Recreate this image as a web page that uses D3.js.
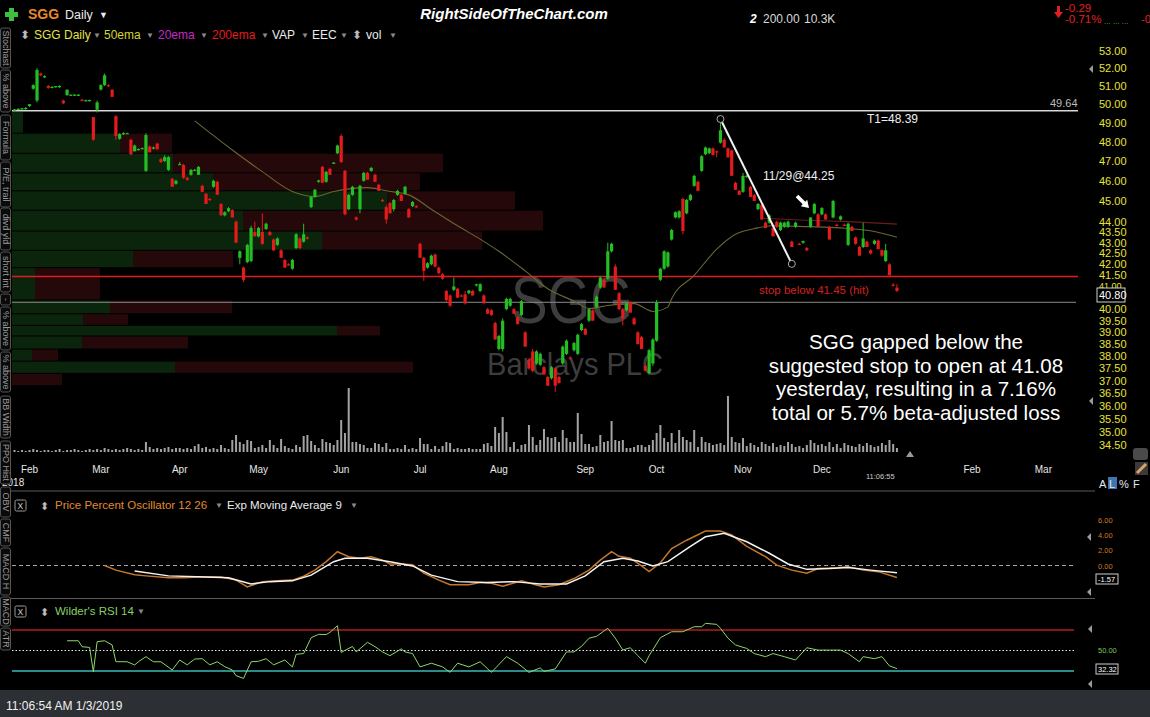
<!DOCTYPE html>
<html>
<head>
<meta charset="utf-8">
<script src="https://cdn.jsdelivr.net/npm/d3@7"></script>
<style>
body { margin: 0; background: #000; overflow: hidden; }
text { font-family: "Liberation Sans", Arial, sans-serif; }
</style>
</head>
<body>
<script>
// daily bars 26 Jan 2018 .. 3 Jan 2019, [open, high, low, close]
const bars = [
  [49.7,49.75,49.65,49.72],[49.72,49.78,49.68,49.75],[49.75,49.8,49.7,49.78],[49.78,49.85,49.7,49.8],[49.9,50.0,49.85,50.0],
  [50.85,51.1,50.8,51.05],[50.2,52.0,50.1,51.9],[51.7,51.75,51.55,51.6],[51.5,51.6,51.45,51.55],[51.0,51.05,50.85,50.9],
  [50.9,51.0,50.88,50.95],[50.95,51.0,50.9,51.0],[50.95,51.05,50.9,51.0],[50.2,50.25,50.0,50.05],[50.5,50.8,50.45,50.8],
  [50.5,50.55,50.45,50.52],[50.5,50.55,50.45,50.53],[50.5,50.55,50.45,50.52],[50.25,50.3,50.15,50.2],[50.18,50.25,50.15,50.22],
  [50.2,50.25,50.15,50.23],[49.3,49.3,48.05,48.1],[49.7,50.2,49.55,50.1],[50.8,51.1,50.75,51.05],[51.05,51.7,51.0,51.6],
  [51.05,51.1,50.95,51.0],[50.8,50.8,50.4,50.4],[49.35,49.4,48.1,48.3],[48.15,48.45,48.1,48.4],[48.4,48.5,48.35,48.45],
  [48.42,48.48,48.4,48.45],[48.1,48.15,47.3,47.35],[47.5,47.85,47.5,47.8],[47.6,47.65,47.55,47.62],[47.62,47.7,47.6,47.67],
  [46.5,48.45,46.45,48.35],[47.75,47.8,47.45,47.45],[47.65,47.75,47.6,47.7],[47.9,47.95,47.6,47.6],[47.1,47.15,46.9,46.95],
  [47.0,47.3,46.95,47.2],[46.55,47.25,46.5,47.2],[46.1,46.15,45.7,45.7],[45.85,46.05,45.8,46.0],[46.85,46.95,46.8,46.85],
  [46.8,46.85,46.1,46.15],[46.15,46.2,46.0,46.05],[46.3,46.6,46.25,46.55],[46.55,46.6,46.5,46.55],[46.3,46.75,46.3,46.7],
  [45.75,45.8,45.45,45.45],[45.35,45.4,44.85,44.85],[45.1,45.15,45.0,45.05],[45.7,46.05,45.65,46.0],[45.95,46.0,45.3,45.3],
  [44.85,44.9,44.3,44.3],[44.3,44.5,44.25,44.45],[44.5,44.7,44.45,44.65],[44.55,44.6,44.2,44.2],[44.0,44.05,43.0,43.0],
  [42.3,42.65,42.0,42.6],[41.85,41.9,41.2,41.3],[42.1,42.95,42.05,42.9],[42.15,43.8,42.1,43.7],[43.5,44.0,43.3,43.3],
  [43.3,43.75,43.25,43.7],[43.5,44.4,42.9,42.95],[43.65,43.95,43.6,43.9],[43.5,43.55,43.35,43.35],[43.15,43.2,42.6,42.65],
  [42.9,43.25,42.85,43.2],[42.65,42.7,42.3,42.3],[42.2,42.25,41.85,41.85],[42.0,42.05,41.95,41.98],[41.8,42.25,41.75,42.2],
  [42.75,43.45,42.7,43.4],[43.2,43.25,42.7,42.75],[43.05,43.9,43.0,43.4],[43.25,43.3,43.15,43.2],[44.7,45.25,44.65,45.2],
  [45.2,45.6,45.15,45.55],[45.95,46.05,45.9,46.02],[46.7,46.75,45.9,45.9],[45.95,46.5,45.9,46.45],[46.6,46.65,46.3,46.3],
  [46.9,46.95,46.85,46.92],[47.4,47.85,47.35,47.8],[48.3,48.4,46.9,46.95],[46.5,46.55,44.3,44.35],[44.6,45.35,44.55,45.3],
  [45.3,45.75,45.25,45.7],[44.2,44.25,44.05,44.1],[44.6,45.8,44.4,45.75],[46.0,46.45,45.95,46.4],[46.4,46.45,46.05,46.05],
  [46.5,46.7,46.45,46.65],[46.3,46.35,45.95,45.95],[45.8,45.85,45.5,45.5],[45.05,45.1,44.95,45.0],[44.7,44.8,43.9,44.1],
  [44.9,44.95,44.4,44.4],[44.6,45.1,44.5,45.05],[45.3,45.55,45.25,45.5],[45.3,45.35,45.0,45.0],[45.35,45.75,45.3,45.7],
  [44.6,44.65,44.2,44.2],[44.75,45.0,44.7,44.95],[44.75,44.8,44.65,44.7],[42.95,43.0,42.3,42.3],[42.3,42.35,41.25,41.7],
  [41.85,42.1,41.8,42.05],[42.0,42.45,41.95,42.4],[42.45,42.5,41.85,41.9],[41.85,41.9,41.55,41.6],[41.55,41.6,41.3,41.35],
  [40.8,40.85,40.3,40.4],[40.6,40.65,40.1,40.15],[40.85,41.4,40.8,41.0],[40.9,40.95,40.5,40.5],[40.6,40.65,40.55,40.58],
  [40.65,40.8,40.2,40.25],[40.7,40.85,40.65,40.82],[40.8,40.85,40.6,40.6],[41.05,41.12,41.0,41.1],[40.8,41.15,40.75,41.1],
  [40.6,40.65,40.25,40.25],[40.0,40.05,39.8,39.8],[39.95,40.0,39.7,39.75],[39.4,39.45,38.7,38.7],[38.3,38.9,38.25,38.85],
  [38.3,39.6,38.2,39.5],[40.0,40.5,39.95,40.45],[40.15,40.5,40.1,40.45],[40.0,40.05,39.8,39.8],[39.65,39.7,39.35,39.35],
  [39.75,40.4,39.7,40.35],[39.0,39.05,38.4,38.4],[37.85,37.9,37.45,37.5],[38.2,38.3,37.35,37.4],[37.7,38.25,37.65,38.2],
  [37.65,38.15,37.6,38.1],[37.55,37.6,37.25,37.25],[37.15,37.2,36.8,36.8],[37.1,37.6,37.05,37.55],[37.5,37.55,36.55,36.8],
  [37.15,37.2,36.9,36.9],[37.7,38.45,37.65,38.4],[38.1,38.7,38.05,38.65],[37.95,38.0,37.85,37.9],[38.25,38.6,38.2,38.55],
  [38.1,38.95,38.05,38.9],[39.1,39.4,39.05,39.35],[39.15,39.2,38.9,38.9],[39.5,40.05,39.45,40.0],[39.95,40.0,39.5,39.5],
  [40.1,40.6,40.05,40.55],[40.95,41.45,40.9,41.4],[41.3,41.35,40.95,40.95],[41.35,43.0,41.3,42.6],[42.6,43.0,42.55,42.95],
  [41.9,42.0,40.85,40.85],[40.7,40.75,39.95,40.0],[40.0,40.05,39.3,39.6],[39.95,40.3,39.9,40.25],[40.3,40.35,39.85,39.85],
  [39.6,39.65,39.3,39.35],[39.0,39.05,38.5,38.5],[38.8,38.85,38.3,38.3],[37.6,37.65,37.4,37.4],[37.3,38.3,37.25,38.25],
  [37.7,38.75,37.6,38.7],[38.65,40.4,38.6,40.3],[41.3,41.85,41.25,41.8],[41.8,42.65,41.75,42.6],[41.9,42.6,41.85,42.55],
  [43.15,43.65,43.1,43.6],[44.2,44.5,44.15,44.45],[44.2,44.55,44.15,44.5],[45.1,45.15,43.4,43.55],[44.4,45.1,44.35,45.05],
  [45.05,45.35,45.0,45.3],[45.75,46.3,45.7,46.25],[45.95,46.0,45.5,45.5],[46.5,47.3,46.45,47.25],[47.35,47.75,47.3,47.7],
  [47.4,47.7,47.35,47.65],[47.65,47.7,47.3,47.3],[47.5,47.55,47.2,47.48],[47.95,49.2,47.9,48.6],[48.1,48.2,47.7,47.7],
  [47.65,47.7,47.15,47.2],[47.55,47.6,46.25,46.25],[45.9,45.95,45.55,45.55],[45.5,45.55,45.3,45.3],[45.45,46.4,45.4,46.25],
  [46.2,46.3,46.15,46.25],[45.7,45.75,45.2,45.2],[45.3,45.35,45.0,45.0],[44.6,44.9,44.55,44.85],[44.8,44.85,44.1,44.1],
  [43.95,44.0,43.7,43.7],[43.95,44.35,43.9,44.3],[43.7,43.75,43.3,43.3],[44.0,44.05,43.7,43.75],[43.6,44.0,43.55,43.95],
  [43.75,44.0,43.7,43.95],[43.75,44.05,43.7,44.0],[43.05,43.1,42.8,42.8],[43.75,44.0,43.7,43.95],[42.95,43.0,42.9,42.92],
  [43.0,43.1,42.95,43.08],[42.75,42.8,42.6,42.65],[43.75,44.2,43.7,44.2],[44.4,44.9,44.35,44.85],[44.35,44.4,43.75,43.75],
  [44.35,44.7,44.3,44.65],[44.35,44.4,44.1,44.1],[43.75,43.8,43.15,43.15],[44.2,45.05,44.15,45.0],[43.85,43.9,43.78,43.8],
  [44.1,44.3,44.05,44.25],[43.85,43.9,43.8,43.82],[42.9,43.95,42.85,43.9],[43.75,43.8,43.55,43.55],[43.25,43.3,42.9,42.95],
  [42.8,42.85,42.4,42.4],[42.8,43.95,42.75,43.2],[43.05,43.1,42.8,42.8],[42.65,42.7,42.45,42.5],[42.95,43.15,42.9,43.1],
  [43.1,43.15,42.7,42.7],[42.65,42.7,42.35,42.4],[42.15,42.95,42.1,42.65],[42.0,42.05,41.5,41.5],[41.08,41.15,41.0,41.05],
  [40.95,41.1,40.75,40.8]
];

// shares per day
const volume = [
  200,100,200,100,200,300,200,100,200,200, 100,200,300,100,200,200,300,200,100,200,
  300,200,300,200,400,300,200,300,200,300, 400,300,200,300,200,1000,500,300,400,300,
  400,500,300,400,400,300,400,300,600,800, 400,500,300,400,300,700,400,300,1200,1700,
  1000,800,1200,1100,400,500,700,400,1200,700, 400,1300,600,400,300,700,500,1600,1700,1100,
  700,400,1300,1000,900,700,1200,3200,1900,6400, 1000,1000,800,700,400,400,900,800,500,900,
  300,300,400,300,700,300,400,300,1400,800, 800,300,600,300,600,1000,900,300,400,300,
  300,400,300,300,300,800,900,600,2500,1900, 3500,2000,500,1000,300,700,800,2700,1500,700,
  1200,2300,1500,1400,1500,1000,2200,1400,1000,1000, 3900,1800,800,800,500,600,1700,1000,1100,3100,
  1200,1100,1200,400,400,500,700,700,500,700, 1200,1900,2700,1400,1000,1900,900,2200,1500,1200,
  1000,2200,500,1500,1000,900,700,800,900,700, 5600,1500,1000,900,1400,600,900,700,500,1000,
  800,600,900,500,700,600,1000,800,500,600, 400,700,1200,900,700,800,600,1000,500,800,
  400,900,700,600,500,800,600,900,700,500, 600,900,700,1200,800,400
];

const monthNames = ["Feb","Mar","Apr","May","Jun","Jul","Aug","Sep","Oct","Nov","Dec","Feb","Mar"];
const monthStart = [4,23,44,65,87,108,129,152,171,194,215,255,274];
const priceTicks = [53,52,51,50,49,48,47,46,45,44,43.5,43,42.5,42,41.5,41,40,39.5,39,38.5,38,37.5,37,36.5,36,35.5,35,34.5];

// moving averages, [bar, price]
const ema50 = [[48,49.1],[58,47.57],[66,46.46],[74,45.47],[80,45.22],[85,45.47],[94,45.66],[99,45.5],[105,45.3],
  [111,44.6],[118,43.8],[124,43.17],[129,42.6],[136,41.7],[142,40.9],[149,40.35],[153,40.03],[158,40.16],[165,40.24],
  [170,39.9],[174,40.1],[175,40.46],[181,41.5],[187,42.7],[192,43.4],[198,43.7],[202,43.8],[211,43.76],[220,43.7],
  [229,43.53],[235,43.26]];
const ema200 = [[199,44.16],[209,44.08],[222,44.0],[235,43.88]];

// Price Percent Oscillator 12 26 and its 9 EMA, [bar, value]
const ppo = [[24,0],[27,-0.6],[32,-1.2],[35,-1.35],[41,-1.6],[45,-1.6],[49,-1.5],[55,-1.5],[59,-1.9],[62,-2.8],
  [66,-2.1],[70,-2.0],[74,-1.9],[77,-1.4],[80,-0.6],[83,0.5],[86,1.8],[89,1.15],[92,0.95],[95,1.15],[98,0.7],
  [100,0.2],[103,0.2],[106,0.1],[109,-1.0],[113,-1.9],[116,-2.5],[121,-2.5],[124,-2.2],[127,-2.3],[130,-2.7],
  [135,-2.0],[138,-2.4],[141,-2.8],[145,-2.5],[149,-1.7],[153,-0.6],[156,0.7],[159,1.8],[161,1.2],[164,0.95],
  [167,-0.05],[169,-0.8],[172,0.35],[175,2.2],[179,3.3],[184,4.5],[188,4.5],[191,4.0],[195,2.5],[200,1.15],
  [203,0.05],[207,-0.6],[211,-1.0],[214,-0.4],[219,-0.3],[222,-0.15],[226,-0.6],[230,-0.8],[235,-1.57]];
const ppoSignal = [[32,-0.7],[41,-1.35],[51,-1.5],[57,-1.6],[63,-2.4],[68,-2.1],[74,-2.0],[79,-1.25],[85,0.5],
  [88,0.95],[94,0.95],[100,0.5],[106,-0.05],[111,-1.25],[118,-2.1],[126,-2.2],[133,-2.1],[140,-2.4],[147,-2.4],
  [152,-1.35],[157,0.5],[162,0.95],[166,0.6],[170,-0.05],[174,0.5],[180,2.5],[184,3.75],[189,4.2],[195,3.1],
  [201,1.6],[206,0.2],[211,-0.5],[217,-0.4],[222,-0.25],[228,-0.6],[235,-0.95]];

// Wilder's RSI 14, [bar, value]
const rsi = [[14,59.5],[17,59.5],[18,53.7],[20,53],[21,29.3],[22,58.6],[24,59.5],[26,55.4],[27,39.1],[30,39],
  [32,35.9],[33,39],[35,44],[37,39],[39,39],[42,31],[44,40.7],[46,36],[48,41.7],[50,42],[52,36],[54,39],[56,34.2],
  [58,31],[59,25.4],[61,22.8],[63,39],[65,39.5],[67,42],[69,36],[72,40.7],[74,34],[75,46.3],[77,47],[79,62.5],
  [81,65.8],[83,65.5],[84,67.7],[86,74.2],[87,48.2],[90,53.9],[91,48.6],[94,58],[96,53.8],[98,48.6],[100,45],
  [103,51.6],[104,48.6],[106,47],[108,34],[111,37.6],[114,34],[116,28.7],[118,37.6],[121,34],[124,39],[127,28.7],
  [131,44],[134,37.6],[137,28.7],[140,33],[141,29.6],[144,32],[147,48.6],[149,48.6],[151,54],[153,62],[155,63.8],
  [158,71.7],[160,62],[162,50.5],[164,52.7],[166,45],[168,37.6],[169,45],[172,62.5],[175,68.3],[178,68.3],
  [181,73.2],[183,73.2],[184,76.5],[187,75.5],[188,71.7],[190,62],[192,55.4],[195,52],[197,47],[200,44],[202,47],
  [205,44],[208,40.7],[211,52.7],[214,50.4],[217,50.4],[220,50.4],[222,47],[225,39],[226,44],[229,42],[231,44],
  [233,35],[235,32.32]];

// volume at price rows (thousand shares)
const vapLow  = [48.45,47.4,46.4,45.5,44.55,43.55,42.65,41.85,40.4,39.8,39.3,38.85,38.3,37.8,37.3,36.8];
const vapHigh = [49.6,48.45,47.4,46.4,45.5,44.55,43.55,42.65,41.85,40.4,39.8,39.3,38.85,38.3,37.8,37.3];
const vapUp   = [1.1,10.8,16.1,20.1,37.5,23.1,31.0,12.1,2.3,9.8,7.1,32.5,7.0,2.0,16.3,0];
const vapDown = [0,5.2,27.0,20.7,12.8,30.0,16.0,10.0,6.5,12.2,4.5,4.3,10.6,2.6,23.8,5.0];

const targetLevel = 49.64, stopLevel = 41.45, supportLevel = 40.3, lastPrice = 40.80;
const trendFrom = [188, 49.2], trendTo = [207, 42.02];

const W = 1150, H = 717;
const svg = d3.select("body").append("svg").attr("width", W).attr("height", H);
svg.append("rect").attr("width", W).attr("height", H).attr("fill", "#000");

const x = d3.scaleLinear().domain([0, 274]).range([14.5, 1043.4]);
const y = d3.scaleLog().domain([34.5, 53]).range([445, 50.7]);
const yVol = d3.scaleLinear().domain([0, d3.max(volume)]).range([452, 388]);
const yPpo = d3.scaleLinear().domain([-4, 6]).range([596.2, 519.5]);
const yRsi = d3.scaleLinear().domain([30, 70]).range([671, 630]);
const vx = d3.scaleLinear().domain([0, 10]).range([0, 100]);

// volume at price
const vap = svg.append("g");
vapLow.forEach(function(lo, i) {
  const top = y(vapHigh[i]) + 0.5, h = y(lo) - y(vapHigh[i]) - 1;
  vap.append("rect").attr("x", 12).attr("y", top).attr("width", vx(vapUp[i])).attr("height", h).attr("fill", "#0b240c");
  vap.append("rect").attr("x", 12 + vx(vapUp[i])).attr("y", top).attr("width", vx(vapDown[i])).attr("height", h).attr("fill", "#250809");
});

// watermark
svg.append("text").attr("x", 572).attr("y", 323).attr("text-anchor", "middle")
  .attr("font-size", 66).attr("textLength", 122).attr("lengthAdjust", "spacingAndGlyphs")
  .attr("fill", "#3d3d3d").text("SGG");
svg.append("text").attr("x", 575).attr("y", 375).attr("text-anchor", "middle")
  .attr("font-size", 32).attr("textLength", 176).attr("lengthAdjust", "spacingAndGlyphs")
  .attr("fill", "#3d3d3d").text("Barclays PLC");

// horizontal levels
svg.append("line").attr("x1", 12).attr("x2", 1078).attr("y1", y(targetLevel)).attr("y2", y(targetLevel)).attr("stroke", "#d8d8d8").attr("stroke-width", 1.5);
svg.append("line").attr("x1", 12).attr("x2", 1078).attr("y1", y(stopLevel)).attr("y2", y(stopLevel)).attr("stroke", "#e01c1c").attr("stroke-width", 1.5);
svg.append("line").attr("x1", 12).attr("x2", 1076).attr("y1", y(supportLevel)).attr("y2", y(supportLevel)).attr("stroke", "#8a8a8a").attr("stroke-width", 1);

// moving averages
const maLine = d3.line().x(d => x(d[0])).y(d => y(d[1])).curve(d3.curveMonotoneX);
svg.append("path").attr("d", maLine(ema50)).attr("fill", "none").attr("stroke", "#6b6532").attr("stroke-width", 1.1);
svg.append("path").attr("d", maLine(ema200)).attr("fill", "none").attr("stroke", "#6e1b1b").attr("stroke-width", 1.1);

// volume
svg.append("g").selectAll("rect").data(volume).join("rect")
  .attr("x", (d, i) => x(i) - 1).attr("width", 2)
  .attr("y", d => yVol(d)).attr("height", d => 452 - yVol(d))
  .attr("fill", "#a3a3a3");

// candles
const up = "#24bd24", down = "#e31b1b";
const candles = svg.append("g");
candles.selectAll("line").data(bars).join("line")
  .attr("x1", (d, i) => x(i)).attr("x2", (d, i) => x(i))
  .attr("y1", d => y(d[1])).attr("y2", d => y(d[2]))
  .attr("stroke", d => d[3] >= d[0] ? up : down).attr("stroke-width", 1);
candles.selectAll("rect").data(bars).join("rect")
  .attr("x", (d, i) => x(i) - 1.6).attr("width", 3.2)
  .attr("y", d => y(Math.max(d[0], d[3])))
  .attr("height", d => Math.max(1.2, y(Math.min(d[0], d[3])) - y(Math.max(d[0], d[3]))))
  .attr("fill", d => d[3] >= d[0] ? up : down);

// trend line annotation
svg.append("line").attr("x1", x(trendFrom[0])).attr("y1", y(trendFrom[1])).attr("x2", x(trendTo[0])).attr("y2", y(trendTo[1]))
  .attr("stroke", "#f2f2f2").attr("stroke-width", 2);
[trendFrom, trendTo].forEach(p => svg.append("circle").attr("cx", x(p[0])).attr("cy", y(p[1])).attr("r", 3.5)
  .attr("fill", "#000").attr("stroke", "#aaa").attr("stroke-width", 1));
svg.append("path").attr("d", "M809,208 L800.8,206.2 L802.7,204.3 L795.7,197.3 L798.3,194.7 L805.3,201.7 L807.2,199.8 Z").attr("fill", "#fff");

const label = (tx, ty, str, size, color, anchor) => svg.append("text").attr("x", tx).attr("y", ty)
  .attr("font-size", size).attr("fill", color).attr("text-anchor", anchor || "start").text(str);

label(867, 123, "T1=48.39", 12, "#f0f0f0");
label(763, 180, "11/29@44.25", 12, "#f0f0f0");
label(759, 294, "stop below 41.45  (hit)", 11.5, "#d42020");
label(1050, 107, "49.64", 11, "#bbbbbb");

["SGG gapped below the", "suggested stop to open at 41.08", "yesterday, resulting in a 7.16%", "total or 5.7% beta-adjusted loss"]
  .forEach((s, i) => label(916, 349 + i * 23.7, s, 20.6, "#ffffff", "middle"));

// price axis
svg.append("g").selectAll("text").data(priceTicks).join("text")
  .attr("x", 1099).attr("y", d => y(d) + (d === 41 ? 3 : 4)).attr("font-size", d => d === 41 ? 9 : 11).attr("fill", "#e8e336")
  .text(d => d.toFixed(2));
svg.append("rect").attr("x", 1097).attr("y", 288).attr("width", 28).attr("height", 14).attr("fill", "#000").attr("stroke", "#cfcfcf");
label(1099, 299, lastPrice.toFixed(2), 11, "#ffffff");

// time axis
svg.append("g").selectAll("text").data(monthNames).join("text")
  .attr("x", (d, i) => x(monthStart[i])).attr("y", 473).attr("text-anchor", "middle")
  .attr("font-size", 10).attr("fill", "#e6e6e6").text(d => d);
label(2, 486, "2018", 10, "#e6e6e6");
label(866, 479, "11:06:55", 7.5, "#cccccc");
svg.append("path").attr("d", "M906,457 L910,451 L914,457 Z").attr("fill", "#9a9a9a");

// panel separators
svg.append("line").attr("x1", 0).attr("x2", 1095).attr("y1", 491).attr("y2", 491).attr("stroke", "#5a5a5a");
svg.append("line").attr("x1", 0).attr("x2", 1095).attr("y1", 598.5).attr("y2", 598.5).attr("stroke", "#5a5a5a");

// PPO panel
svg.append("line").attr("x1", 12).attr("x2", 1074).attr("y1", yPpo(0)).attr("y2", yPpo(0))
  .attr("stroke", "#a8a8a8").attr("stroke-dasharray", "4,3");
const ppoLine = d3.line().x(d => x(d[0])).y(d => yPpo(d[1]));
svg.append("path").attr("d", ppoLine(ppo)).attr("fill", "none").attr("stroke", "#c6772a").attr("stroke-width", 1.5);
svg.append("path").attr("d", ppoLine(ppoSignal)).attr("fill", "none").attr("stroke", "#f4f4f4").attr("stroke-width", 1.5);
svg.append("g").selectAll("text").data([6, 4, 2, 0]).join("text")
  .attr("x", 1098).attr("y", d => yPpo(d) + 3).attr("font-size", 7.5).attr("fill", "#d07a22").text(d => d.toFixed(2));
svg.append("rect").attr("x", 1096).attr("y", 574).attr("width", 22).attr("height", 10).attr("fill", "#000").attr("stroke", "#cfcfcf");
label(1098, 582, "-1.57", 7.5, "#ffffff");

// RSI panel
svg.append("line").attr("x1", 12).attr("x2", 1074).attr("y1", yRsi(70)).attr("y2", yRsi(70)).attr("stroke", "#b31d1d").attr("stroke-width", 1.3);
svg.append("line").attr("x1", 12).attr("x2", 1074).attr("y1", yRsi(30)).attr("y2", yRsi(30)).attr("stroke", "#3bb8b8").attr("stroke-width", 1.3);
svg.append("line").attr("x1", 12).attr("x2", 1074).attr("y1", yRsi(50)).attr("y2", yRsi(50)).attr("stroke", "#e8e8e8").attr("stroke-dasharray", "1.5,2");
svg.append("path").attr("d", d3.line().x(d => x(d[0])).y(d => yRsi(d[1]))(rsi)).attr("fill", "none").attr("stroke", "#8fd66c").attr("stroke-width", 1);
label(1098, 653, "50.00", 7.5, "#7cc35a");
svg.append("rect").attr("x", 1096).attr("y", 664).attr("width", 22).attr("height", 10).attr("fill", "#000").attr("stroke", "#cfcfcf");
label(1098, 672, "32.32", 7.5, "#ffffff");

// right side markers
[[1093, 69], [1093, 401], [1091, 537], [1091, 592], [1092, 629], [1092, 684]].forEach(p =>
  svg.append("path").attr("d", `M${p[0] - 4},${p[1]} L${p[0]},${p[1] - 4} L${p[0]},${p[1] + 4} Z`).attr("fill", "#9a9a9a"));

// header rows
svg.append("path").attr("d", "M9,8 h5 v4 h4 v5 h-4 v4 h-5 v-4 h-4 v-5 h4 Z").attr("fill", "#3fbf3f");
svg.append("text").attr("x", 28).attr("y", 19).attr("font-size", 14).attr("font-weight", "bold").attr("fill", "#e8882c").text("SGG");
label(65, 19, "Daily", 12.5, "#ececec");
label(99, 18, "▼", 9, "#ececec");
svg.append("text").attr("x", 514).attr("y", 19).attr("text-anchor", "middle").attr("font-size", 15)
  .attr("font-weight", "bold").attr("font-style", "italic").attr("fill", "#ffffff").text("RightSideOfTheChart.com");
svg.append("text").attr("x", 750).attr("y", 23).attr("font-size", 12).attr("font-weight", "bold").attr("font-style", "italic").attr("fill", "#fff").text("2");
label(763, 23, "200.00", 12, "#d8d8d8");
label(804, 23, "10.3K", 12, "#d8d8d8");
svg.append("path").attr("d", "M1054,12 h3 v-6 h3 v6 h3 l-4.5,6 Z").attr("fill", "#e02020");
label(1065, 12, "-0.29", 11.5, "#e02020");
label(1065, 23, "-0.71%", 11.5, "#e02020");
label(1104, 24, "...  ...  ...", 8, "#48b848");
label(1141, 23, "-0", 11, "#e02020");

const legendItems = [["⬍", 20, "#bbbbbb"], ["SGG Daily", 34, "#e4e444"], ["50ema", 104, "#d6d52e"], ["20ema", 158, "#c32bc3"],
  ["200ema", 212, "#e21c1c"], ["VAP", 272, "#ececec"], ["EEC", 312, "#ececec"], ["⬍", 352, "#bbbbbb"], ["vol", 366, "#ececec"]];
legendItems.forEach(d => label(d[1], 39, d[0], 12, d[2]));
[93, 146, 200, 261, 301, 340, 389].forEach(px => label(px, 38, "▼", 8, "#8a8a8a"));

// indicator headers
function closeBox(ty) {
  svg.append("rect").attr("x", 15).attr("y", ty).attr("width", 11).attr("height", 11).attr("rx", 1.5)
    .attr("fill", "none").attr("stroke", "#9a9a9a");
  label(17.5, ty + 9, "X", 8.5, "#cfcfcf");
  label(40, ty + 10, "⬍", 11, "#bbbbbb");
}
closeBox(500);
label(55, 509, "Price Percent Oscillator 12 26", 11.5, "#e08a33");
label(215, 508, "▼", 8, "#8a8a8a");
label(227, 509, "Exp Moving Average 9", 11.5, "#ececec");
label(350, 508, "▼", 8, "#8a8a8a");
closeBox(606);
label(55, 615, "Wilder's RSI 14", 11.5, "#86d065");
label(137, 614, "▼", 8, "#8a8a8a");

// side tabs
const tabs = [["Stochast", 28, 68], ["% above", 70, 112], ["Formula", 115, 160], ["P/E, trail", 162, 207],
  ["divd yld", 208, 250], ["short int", 252, 292], ["-", 294, 305], ["% above", 307, 350], ["% above", 352, 392],
  ["BB Width", 396, 438], ["PPO Hist", 441, 484], ["OBV", 487, 517], ["CMF", 519, 546], ["MACD H", 548, 595],
  ["MACD", 597, 626], ["ATR", 628, 650]];
tabs.forEach(t => {
  svg.append("rect").attr("x", 0.5).attr("y", t[1]).attr("width", 10).attr("height", t[2] - t[1]).attr("rx", 2)
    .attr("fill", "#0a0a0a").attr("stroke", "#555");
  svg.append("text").attr("transform", `translate(2.5,${(t[1] + t[2]) / 2}) rotate(90)`)
    .attr("text-anchor", "middle").attr("font-size", 9).attr("fill", "#9a9a9a").text(t[0]);
});

// right toolbar
label(1099, 488, "A", 11, "#e8e8e8");
svg.append("rect").attr("x", 1108).attr("y", 477).attr("width", 9).attr("height", 12).attr("fill", "#3f76b0");
label(1109, 488, "L", 11, "#e8e8e8");
label(1119, 488, "%", 11, "#e8e8e8");
label(1133, 488, "F", 11, "#e8e8e8");
svg.append("rect").attr("x", 1133).attr("y", 448).attr("width", 15).attr("height", 12).attr("rx", 3).attr("fill", "#4a4a4a");
svg.append("rect").attr("x", 1135).attr("y", 462).attr("width", 13).attr("height", 13).attr("fill", "#3a3a3a");
svg.append("line").attr("x1", 1137).attr("y1", 473).attr("x2", 1146).attr("y2", 464).attr("stroke", "#d9a36a").attr("stroke-width", 3);

// status bar
svg.append("rect").attr("x", 0).attr("y", 690).attr("width", W).attr("height", 27).attr("fill", "#2c2f34");
label(6, 710, "11:06:54 AM 1/3/2019", 12, "#f0f0f0");
</script>
</body>
</html>
